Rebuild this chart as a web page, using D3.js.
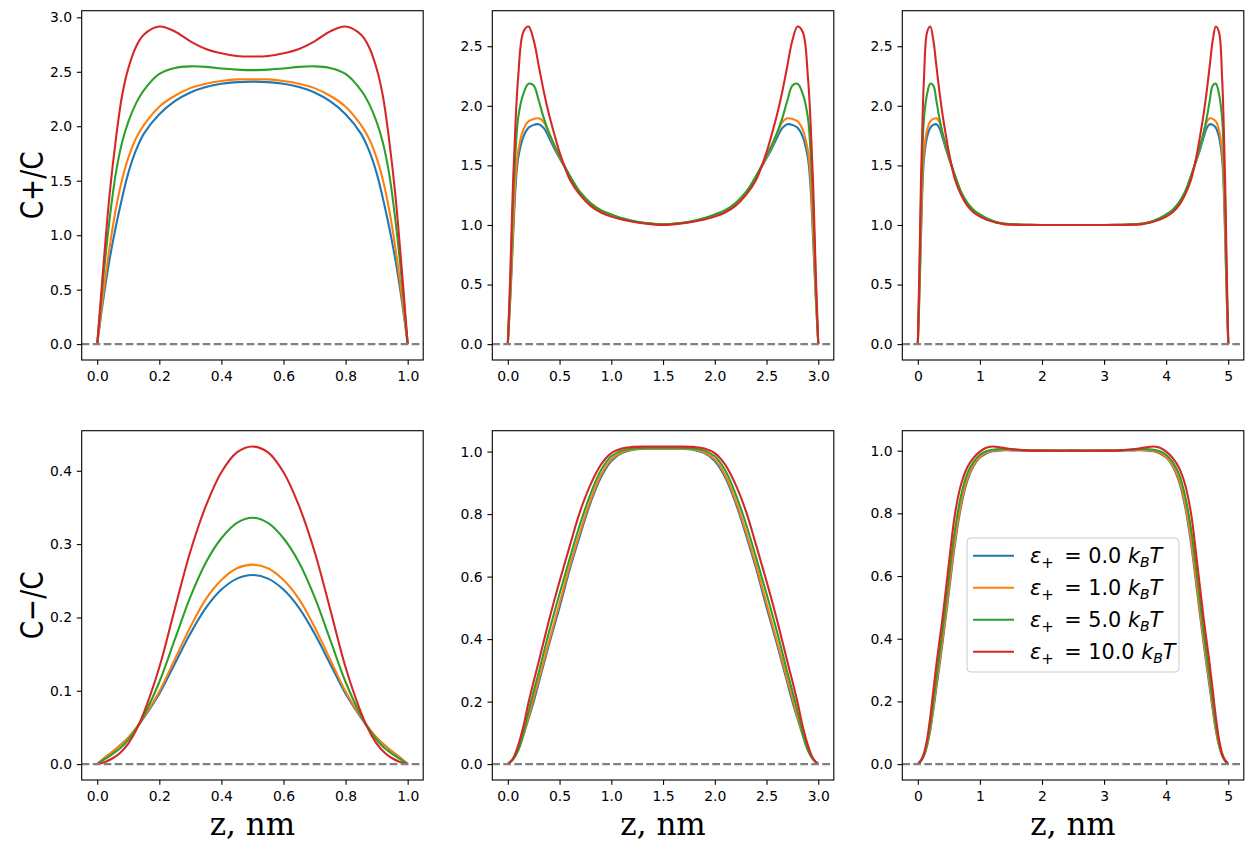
<!DOCTYPE html>
<html>
<head>
<meta charset="utf-8">
<script src="https://cdn.jsdelivr.net/npm/d3@7"></script>
<style>
  body { margin: 0; background: #fff; }
  svg { display: block; }
</style>
</head>
<body>
<svg id="fig" width="1253" height="851"></svg>
<script>
// --- data ---
const epsLabels = ["0.0", "1.0", "5.0", "10.0"];
const colors = ["#1f77b4", "#ff7f0e", "#2ca02c", "#d62728"];

// cations, slit width 1 nm
const zPlusL1 = [0, 0.02, 0.04, 0.06, 0.08, 0.1, 0.125, 0.15, 0.2, 0.25, 0.3, 0.35, 0.4, 0.45, 0.5,
  0.55, 0.6, 0.65, 0.7, 0.75, 0.8, 0.85, 0.875, 0.9, 0.92, 0.94, 0.96, 0.98, 1.0];
const cPlusL1_e0 = [0, 0.42, 0.78, 1.08, 1.34, 1.57, 1.78, 1.93, 2.11, 2.23, 2.31, 2.36, 2.39, 2.405, 2.41,
  2.405, 2.39, 2.36, 2.31, 2.23, 2.11, 1.93, 1.78, 1.57, 1.34, 1.08, 0.78, 0.42, 0];
const cPlusL1_e1 = [0, 0.47, 0.89, 1.24, 1.51, 1.71, 1.89, 2.01, 2.18, 2.28, 2.35, 2.39, 2.415, 2.43, 2.43,
  2.43, 2.415, 2.39, 2.35, 2.28, 2.18, 2.01, 1.89, 1.71, 1.51, 1.24, 0.89, 0.47, 0];
const cPlusL1_e5 = [0, 0.62, 1.15, 1.57, 1.85, 2.04, 2.21, 2.33, 2.48, 2.535, 2.55, 2.545, 2.53, 2.52, 2.515,
  2.52, 2.53, 2.545, 2.55, 2.535, 2.48, 2.33, 2.21, 2.04, 1.85, 1.57, 1.15, 0.62, 0];
const cPlusL1_e10 = [0, 0.72, 1.38, 1.88, 2.28, 2.53, 2.73, 2.84, 2.915, 2.87, 2.78, 2.71, 2.67, 2.645, 2.64,
  2.645, 2.67, 2.71, 2.78, 2.87, 2.915, 2.84, 2.73, 2.53, 2.28, 1.88, 1.38, 0.72, 0];

// cations, slit width 3 nm
const zPlusL3 = [0, 0.025, 0.05, 0.075, 0.1, 0.15, 0.2, 0.25, 0.3, 0.35, 0.4, 0.45, 0.5, 0.6, 0.7, 0.8, 0.9, 1.0, 1.1, 1.25, 1.4,
  1.5,
  1.6, 1.75, 1.9, 2.0, 2.1, 2.2, 2.3, 2.4, 2.5, 2.55, 2.6, 2.65, 2.7, 2.75, 2.8, 2.85, 2.9, 2.925, 2.95, 2.975, 3.0];
const cPlusL3_e0 = [0, 0.40, 0.88, 1.32, 1.56, 1.74, 1.815, 1.84, 1.845, 1.81, 1.73, 1.64, 1.56, 1.41, 1.265, 1.175, 1.12, 1.085, 1.055, 1.025, 1.01,
  1.005,
  1.01, 1.025, 1.055, 1.085, 1.12, 1.175, 1.265, 1.41, 1.56, 1.64, 1.73, 1.81, 1.845, 1.84, 1.815, 1.74, 1.56, 1.32, 0.88, 0.40, 0];
const cPlusL3_e1 = [0, 0.42, 0.95, 1.40, 1.62, 1.80, 1.87, 1.89, 1.895, 1.86, 1.76, 1.66, 1.57, 1.41, 1.27, 1.18, 1.12, 1.085, 1.055, 1.025, 1.01,
  1.005,
  1.01, 1.025, 1.055, 1.085, 1.12, 1.18, 1.27, 1.41, 1.57, 1.66, 1.76, 1.86, 1.895, 1.89, 1.87, 1.80, 1.62, 1.40, 0.95, 0.42, 0];
const cPlusL3_e5 = [0, 0.52, 1.2, 1.62, 1.90, 2.10, 2.185, 2.17, 2.04, 1.89, 1.77, 1.67, 1.58, 1.41, 1.275, 1.185, 1.125, 1.088, 1.058, 1.027, 1.01,
  1.005,
  1.01, 1.027, 1.058, 1.088, 1.125, 1.185, 1.275, 1.41, 1.58, 1.67, 1.77, 1.89, 2.04, 2.17, 2.185, 2.10, 1.90, 1.62, 1.2, 0.52, 0];
const cPlusL3_e10 = [0, 0.62, 1.35, 1.87, 2.24, 2.62, 2.665, 2.55, 2.33, 2.11, 1.92, 1.76, 1.61, 1.38, 1.25, 1.16, 1.105, 1.07, 1.045, 1.02, 1.005,
  1.0,
  1.005, 1.02, 1.045, 1.07, 1.105, 1.16, 1.25, 1.38, 1.61, 1.76, 1.92, 2.11, 2.33, 2.55, 2.665, 2.62, 2.24, 1.87, 1.35, 0.62, 0];

// cations, slit width 5 nm
const zPlusL5 = [0, 0.025, 0.05, 0.075, 0.1, 0.15, 0.2, 0.25, 0.3, 0.35, 0.4, 0.45, 0.5, 0.6, 0.7, 0.8, 0.9, 1.0, 1.1, 1.25, 1.4, 1.6, 1.8, 2.0,
  2.5,
  3.0, 3.2, 3.4, 3.6, 3.75, 3.9, 4.0, 4.1, 4.2, 4.3, 4.4, 4.5, 4.55, 4.6, 4.65, 4.7, 4.75, 4.8, 4.85, 4.9, 4.925, 4.95, 4.975, 5.0];
const cPlusL5_e0 = [0, 0.40, 0.88, 1.32, 1.56, 1.74, 1.815, 1.84, 1.845, 1.81, 1.73, 1.64, 1.56, 1.41, 1.265, 1.175, 1.12, 1.085, 1.055, 1.025, 1.01, 1.004, 1.001, 1.0,
  1.0,
  1.0, 1.001, 1.004, 1.01, 1.025, 1.055, 1.085, 1.12, 1.175, 1.265, 1.41, 1.56, 1.64, 1.73, 1.81, 1.845, 1.84, 1.815, 1.74, 1.56, 1.32, 0.88, 0.40, 0];
const cPlusL5_e1 = [0, 0.42, 0.95, 1.40, 1.62, 1.80, 1.87, 1.89, 1.895, 1.86, 1.76, 1.66, 1.57, 1.41, 1.27, 1.18, 1.12, 1.085, 1.055, 1.025, 1.01, 1.004, 1.001, 1.0,
  1.0,
  1.0, 1.001, 1.004, 1.01, 1.025, 1.055, 1.085, 1.12, 1.18, 1.27, 1.41, 1.57, 1.66, 1.76, 1.86, 1.895, 1.89, 1.87, 1.80, 1.62, 1.40, 0.95, 0.42, 0];
const cPlusL5_e5 = [0, 0.52, 1.2, 1.62, 1.90, 2.10, 2.185, 2.17, 2.04, 1.89, 1.77, 1.67, 1.58, 1.41, 1.275, 1.185, 1.125, 1.088, 1.058, 1.027, 1.01, 1.004, 1.001, 1.0,
  1.0,
  1.0, 1.001, 1.004, 1.01, 1.027, 1.058, 1.088, 1.125, 1.185, 1.275, 1.41, 1.58, 1.67, 1.77, 1.89, 2.04, 2.17, 2.185, 2.10, 1.90, 1.62, 1.2, 0.52, 0];
const cPlusL5_e10 = [0, 0.62, 1.35, 1.87, 2.24, 2.62, 2.665, 2.55, 2.33, 2.11, 1.92, 1.76, 1.61, 1.38, 1.25, 1.16, 1.105, 1.07, 1.045, 1.02, 1.005, 1.001, 1.0, 1.0,
  1.0,
  1.0, 1.0, 1.001, 1.005, 1.02, 1.045, 1.07, 1.105, 1.16, 1.25, 1.38, 1.61, 1.76, 1.92, 2.11, 2.33, 2.55, 2.665, 2.62, 2.24, 1.87, 1.35, 0.62, 0];

// anions, slit width 1 nm
const zMinusL1 = [0, 0.025, 0.05, 0.075, 0.1, 0.125, 0.15, 0.2, 0.25, 0.3, 0.35, 0.4, 0.45, 0.5,
  0.55, 0.6, 0.65, 0.7, 0.75, 0.8, 0.85, 0.875, 0.9, 0.925, 0.95, 0.975, 1.0];
const cMinusL1_e0 = [0, 0.009, 0.017, 0.026, 0.036, 0.048, 0.063, 0.096, 0.137, 0.178, 0.213, 0.238, 0.253, 0.258,
  0.253, 0.238, 0.213, 0.178, 0.137, 0.096, 0.063, 0.048, 0.036, 0.026, 0.017, 0.009, 0];
const cMinusL1_e1 = [0, 0.009, 0.017, 0.026, 0.036, 0.049, 0.064, 0.099, 0.143, 0.187, 0.225, 0.251, 0.267, 0.272,
  0.267, 0.251, 0.225, 0.187, 0.143, 0.099, 0.064, 0.049, 0.036, 0.026, 0.017, 0.009, 0];
const cMinusL1_e5 = [0, 0.007, 0.014, 0.022, 0.033, 0.048, 0.066, 0.112, 0.17, 0.228, 0.275, 0.308, 0.329, 0.336,
  0.329, 0.308, 0.275, 0.228, 0.17, 0.112, 0.066, 0.048, 0.033, 0.022, 0.014, 0.007, 0];
const cMinusL1_e10 = [0, 0.003, 0.008, 0.016, 0.028, 0.046, 0.07, 0.132, 0.212, 0.29, 0.352, 0.398, 0.425, 0.433,
  0.425, 0.398, 0.352, 0.29, 0.212, 0.132, 0.07, 0.046, 0.028, 0.016, 0.008, 0.003, 0];

// anions, slit width 3 nm
const zMinusL3 = [0, 0.05, 0.1, 0.15, 0.2, 0.25, 0.3, 0.4, 0.5, 0.6, 0.7, 0.8, 0.9, 1.0, 1.1, 1.2, 1.35,
  1.5,
  1.65, 1.8, 1.9, 2.0, 2.1, 2.2, 2.3, 2.4, 2.5, 2.6, 2.7, 2.75, 2.8, 2.85, 2.9, 2.95, 3.0];
const cMinusL3_e0 = [0, 0.015, 0.044, 0.092, 0.145, 0.2, 0.262, 0.385, 0.502, 0.625, 0.735, 0.837, 0.918, 0.97, 0.995, 1.005, 1.009,
  1.009,
  1.009, 1.005, 0.995, 0.97, 0.918, 0.837, 0.735, 0.625, 0.502, 0.385, 0.262, 0.2, 0.145, 0.092, 0.044, 0.015, 0];
const cMinusL3_e1 = [0, 0.015, 0.045, 0.095, 0.15, 0.212, 0.272, 0.395, 0.515, 0.635, 0.745, 0.845, 0.925, 0.975, 0.998, 1.007, 1.01,
  1.01,
  1.01, 1.007, 0.998, 0.975, 0.925, 0.845, 0.745, 0.635, 0.515, 0.395, 0.272, 0.212, 0.15, 0.095, 0.045, 0.015, 0];
const cMinusL3_e5 = [0, 0.015, 0.045, 0.1, 0.168, 0.233, 0.295, 0.425, 0.545, 0.66, 0.77, 0.865, 0.94, 0.985, 1.003, 1.01, 1.012,
  1.012,
  1.012, 1.01, 1.003, 0.985, 0.94, 0.865, 0.77, 0.66, 0.545, 0.425, 0.295, 0.233, 0.168, 0.1, 0.045, 0.015, 0];
const cMinusL3_e10 = [0, 0.018, 0.06, 0.12, 0.197, 0.265, 0.33, 0.463, 0.585, 0.70, 0.81, 0.895, 0.958, 0.995, 1.01, 1.015, 1.016,
  1.016,
  1.016, 1.015, 1.01, 0.995, 0.958, 0.895, 0.81, 0.70, 0.585, 0.463, 0.33, 0.265, 0.197, 0.12, 0.06, 0.018, 0];

// anions, slit width 5 nm
const zMinusL5 = [0, 0.05, 0.1, 0.15, 0.2, 0.25, 0.3, 0.4, 0.5, 0.6, 0.7, 0.8, 0.9, 1.0, 1.1, 1.2, 1.35, 1.5, 1.75, 2.0,
  2.5,
  3.0, 3.25, 3.5, 3.65, 3.8, 3.9, 4.0, 4.1, 4.2, 4.3, 4.4, 4.5, 4.6, 4.7, 4.75, 4.8, 4.85, 4.9, 4.95, 5.0];
const cMinusL5_e0 = [0, 0.01, 0.028, 0.06, 0.108, 0.173, 0.245, 0.39, 0.548, 0.705, 0.826, 0.906, 0.952, 0.978, 0.991, 0.998, 1.001, 1.001, 1.0, 1.0,
  1.0,
  1.0, 1.0, 1.001, 1.001, 0.998, 0.991, 0.978, 0.952, 0.906, 0.826, 0.705, 0.548, 0.39, 0.245, 0.173, 0.108, 0.06, 0.028, 0.01, 0];
const cMinusL5_e1 = [0, 0.01, 0.028, 0.062, 0.112, 0.18, 0.255, 0.4, 0.56, 0.715, 0.835, 0.912, 0.955, 0.98, 0.993, 0.999, 1.002, 1.002, 1.001, 1.0,
  1.0,
  1.0, 1.001, 1.002, 1.002, 0.999, 0.993, 0.98, 0.955, 0.912, 0.835, 0.715, 0.56, 0.4, 0.255, 0.18, 0.112, 0.062, 0.028, 0.01, 0];
const cMinusL5_e5 = [0, 0.01, 0.03, 0.068, 0.125, 0.2, 0.28, 0.43, 0.595, 0.75, 0.86, 0.928, 0.965, 0.987, 0.998, 1.003, 1.005, 1.004, 1.001, 1.0,
  1.0,
  1.0, 1.001, 1.004, 1.005, 1.003, 0.998, 0.987, 0.965, 0.928, 0.86, 0.75, 0.595, 0.43, 0.28, 0.2, 0.125, 0.068, 0.03, 0.01, 0];
const cMinusL5_e10 = [0, 0.012, 0.035, 0.08, 0.15, 0.235, 0.32, 0.47, 0.64, 0.8, 0.895, 0.948, 0.978, 0.997, 1.009, 1.013, 1.01, 1.005, 1.001, 1.0,
  1.0,
  1.0, 1.001, 1.005, 1.01, 1.013, 1.009, 0.997, 0.978, 0.948, 0.895, 0.8, 0.64, 0.47, 0.32, 0.235, 0.15, 0.08, 0.035, 0.012, 0];

// tick values
const xTicksL1 = [0, 0.2, 0.4, 0.6, 0.8, 1.0];
const xTicksL3 = [0, 0.5, 1.0, 1.5, 2.0, 2.5, 3.0];
const xTicksL5 = [0, 1, 2, 3, 4, 5];
const yTicksPlusL1 = [0, 0.5, 1.0, 1.5, 2.0, 2.5, 3.0];
const yTicksPlus = [0, 0.5, 1.0, 1.5, 2.0, 2.5];
const yTicksMinusL1 = [0, 0.1, 0.2, 0.3, 0.4];
const yTicksMinus = [0, 0.2, 0.4, 0.6, 0.8, 1.0];

// --- layout ---
const colX = [81.7, 492.3, 902.3];
const rowY = [10.7, 430.7];
const axW = 341.5, axH = 349.3;
const lw = 2.08;
const f1 = d3.format(".1f"), fd = d3.format("d");

const panels = [
  { row: 0, col: 0, L: 1, z: zPlusL1, series: [cPlusL1_e0, cPlusL1_e1, cPlusL1_e5, cPlusL1_e10], xt: xTicksL1, yt: yTicksPlusL1, xf: f1 },
  { row: 0, col: 1, L: 3, z: zPlusL3, series: [cPlusL3_e0, cPlusL3_e1, cPlusL3_e5, cPlusL3_e10], xt: xTicksL3, yt: yTicksPlus, xf: f1 },
  { row: 0, col: 2, L: 5, z: zPlusL5, series: [cPlusL5_e0, cPlusL5_e1, cPlusL5_e5, cPlusL5_e10], xt: xTicksL5, yt: yTicksPlus, xf: fd },
  { row: 1, col: 0, L: 1, z: zMinusL1, series: [cMinusL1_e0, cMinusL1_e1, cMinusL1_e5, cMinusL1_e10], xt: xTicksL1, yt: yTicksMinusL1, xf: f1 },
  { row: 1, col: 1, L: 3, z: zMinusL3, series: [cMinusL3_e0, cMinusL3_e1, cMinusL3_e5, cMinusL3_e10], xt: xTicksL3, yt: yTicksMinus, xf: f1 },
  { row: 1, col: 2, L: 5, z: zMinusL5, series: [cMinusL5_e0, cMinusL5_e1, cMinusL5_e5, cMinusL5_e10], xt: xTicksL5, yt: yTicksMinus, xf: fd }
];

const svg = d3.select("#fig");
svg.append("rect").attr("width", 1253).attr("height", 851).attr("fill", "#fff");

panels.forEach(p => {
  const x0 = colX[p.col], y0 = rowY[p.row];
  const ymax = d3.max(p.series, s => d3.max(s));
  const x = d3.scaleLinear().domain([-0.05 * p.L, 1.05 * p.L]).range([x0, x0 + axW]);
  const y = d3.scaleLinear().domain([-0.05 * ymax, 1.05 * ymax]).range([y0 + axH, y0]);
  const g = svg.append("g");

  const line = d3.line()
    .x((d, i) => x(p.z[i]))
    .y(d => y(d))
    .curve(d3.curveCatmullRom.alpha(0.5));

  p.series.forEach((s, k) => {
    g.append("path")
      .attr("d", line(s))
      .attr("fill", "none")
      .attr("stroke", colors[k])
      .attr("stroke-width", lw)
      .attr("stroke-linejoin", "round");
  });

  // zero line
  g.append("line")
    .attr("x1", x0).attr("x2", x0 + axW)
    .attr("y1", y(0)).attr("y2", y(0))
    .attr("stroke", "#808080")
    .attr("stroke-width", lw)
    .attr("stroke-dasharray", "7.7,3.3");

  // axes
  const xa = g.append("g")
    .attr("transform", `translate(0,${y0 + axH})`)
    .call(d3.axisBottom(x).tickValues(p.xt).tickFormat(p.xf).tickSize(4.86).tickPadding(4.86));
  const ya = g.append("g")
    .attr("transform", `translate(${x0},0)`)
    .call(d3.axisLeft(y).tickValues(p.yt).tickFormat(f1).tickSize(4.86).tickPadding(4.86));
  [xa, ya].forEach(a => {
    a.select(".domain").remove();
    a.selectAll("line").attr("stroke", "#000").attr("stroke-width", 1.1);
    a.selectAll("text")
      .attr("fill", "#000")
      .style("font-family", "DejaVu Sans")
      .style("font-size", "13.9px");
  });
  xa.selectAll("text").attr("dy", "0.78em");

  g.append("rect")
    .attr("x", x0).attr("y", y0)
    .attr("width", axW).attr("height", axH)
    .attr("fill", "none")
    .attr("stroke", "#000")
    .attr("stroke-width", 1.1);

  if (p.row === 1) {
    svg.append("text")
      .attr("x", x0 + axW / 2)
      .attr("y", 835)
      .attr("text-anchor", "middle")
      .style("font-family", "DejaVu Serif")
      .style("font-size", "31px")
      .text("z, nm");
  }
  if (p.col === 0) {
    svg.append("text")
      .attr("transform", `translate(43,${y0 + axH / 2}) rotate(-90)`)
      .attr("text-anchor", "middle")
      .attr("textLength", 68)
      .attr("lengthAdjust", "spacingAndGlyphs")
      .style("font-family", "DejaVu Sans")
      .style("font-size", "32px")
      .text(p.row === 0 ? "C+/C" : "C\u2212/C");
  }
});

// legend in the lower right panel
const leg = svg.append("g").attr("transform", "translate(967,538)");
leg.append("rect")
  .attr("width", 212).attr("height", 134)
  .attr("rx", 4)
  .attr("fill", "#fff").attr("fill-opacity", 0.8)
  .attr("stroke", "#cccccc").attr("stroke-width", 1);

epsLabels.forEach((e, k) => {
  const cy = 17.7 + k * 32;
  leg.append("line")
    .attr("x1", 6).attr("x2", 47)
    .attr("y1", cy).attr("y2", cy)
    .attr("stroke", colors[k])
    .attr("stroke-width", lw);
  const t = leg.append("text")
    .attr("x", 63).attr("y", cy + 7.6)
    .style("font-family", "DejaVu Sans")
    .style("font-size", "20.8px")
    .attr("fill", "#000");
  t.append("tspan").style("font-style", "italic").text("ε");
  t.append("tspan").attr("dy", 5).style("font-size", "15px").text("+");
  t.append("tspan").attr("dy", -5).text("\u2002= " + e + " ");
  t.append("tspan").style("font-style", "italic").text("k");
  t.append("tspan").attr("dy", 4).style("font-size", "14px").style("font-style", "italic").text("B");
  t.append("tspan").attr("dy", -4).style("font-style", "italic").text("T");
});
</script>
</body>
</html>
